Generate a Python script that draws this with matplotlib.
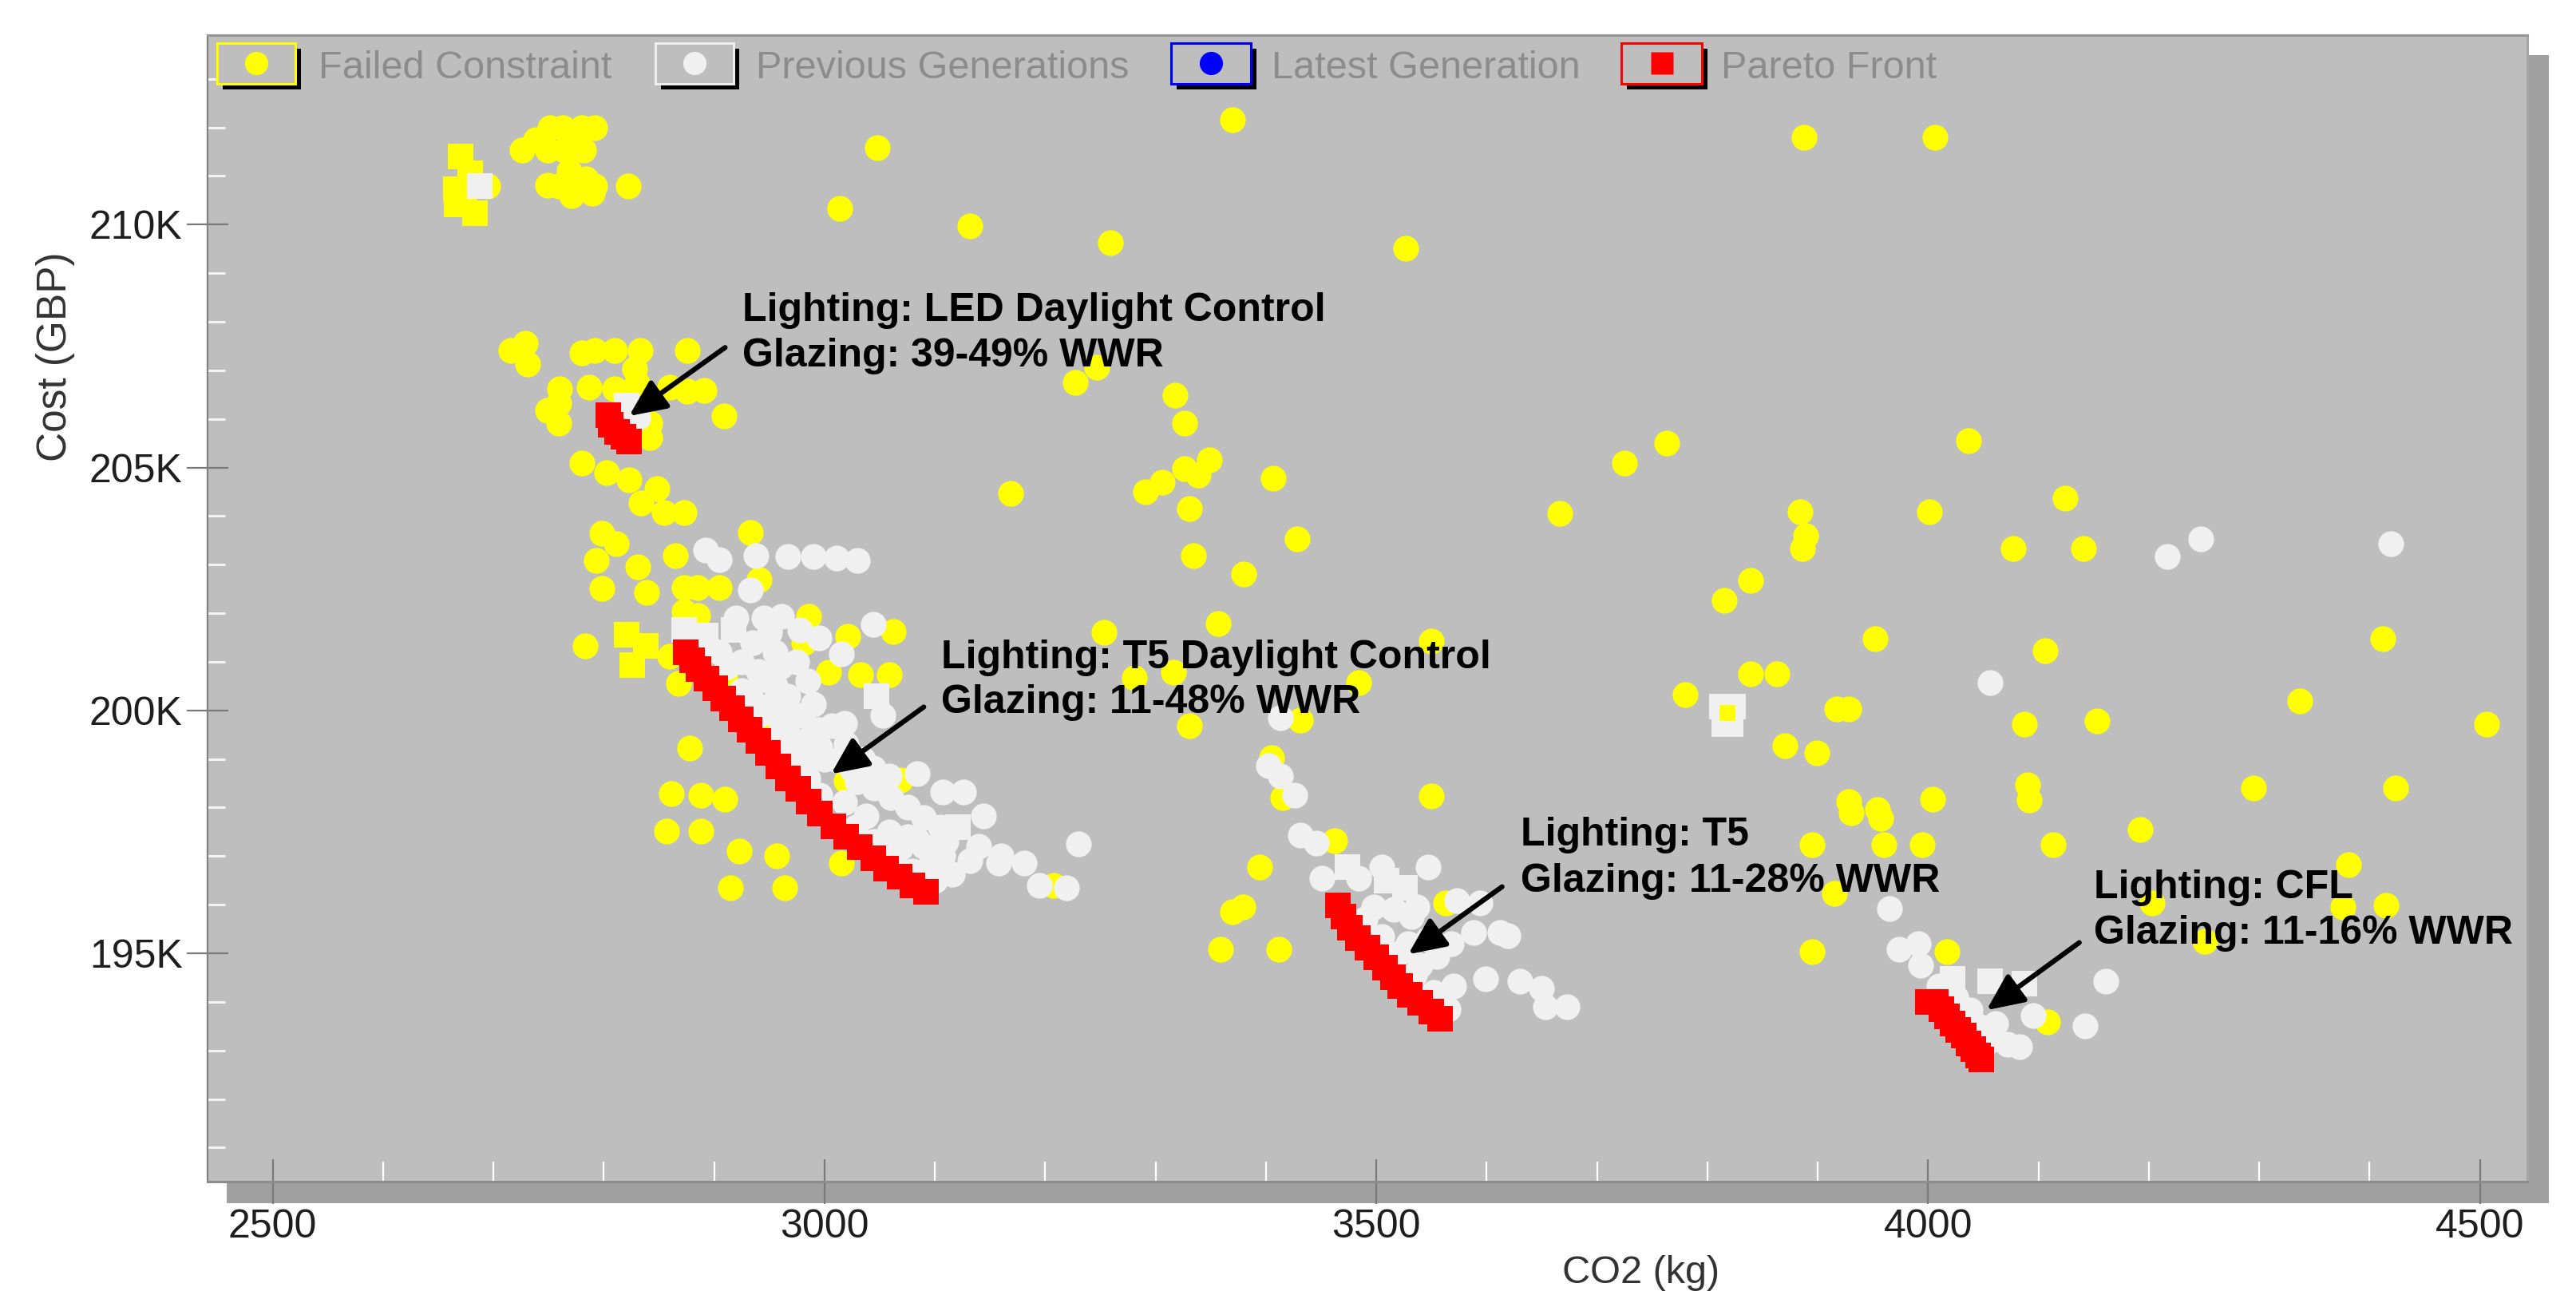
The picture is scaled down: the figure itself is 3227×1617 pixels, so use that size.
import matplotlib
matplotlib.use("Agg")
import matplotlib.pyplot as plt
from matplotlib.patches import Rectangle
from matplotlib.lines import Line2D
from matplotlib.ticker import MultipleLocator, FuncFormatter, FixedLocator

plt.rcParams['font.family'] = ['Liberation Sans', 'DejaVu Sans']

# ---------------- data (CO2 kg, Cost in thousand GBP) ----------------
failed_x = [2695, 2751, 2763, 2780, 2792, 2726, 2749, 2764, 2782, 2738, 2772,
            2749, 2759, 2769, 2771, 2784, 2790, 2792, 2822, 3014,
            3048, 3370, 3132, 3259, 3527, 3888, 4006,
            2716, 2729, 2731, 2780, 2792, 2810, 2833, 2876, 2828, 2830, 2760, 2787,
            2810, 2860, 2876, 2891, 2759, 2749, 2759, 2842, 2842, 2909,
            2780, 2803, 2823, 2848, 2834, 2855, 2873,
            2798, 2811, 2933, 2793, 2831, 2865, 2798, 2839, 2873, 2885, 2905, 2941,
            2873, 2885, 2986, 2783, 2860, 2868, 3062, 3004, 3033, 3059,
            2878, 2861, 2888, 2910, 2857, 2888, 2923, 2957, 2915, 2964, 3015, 3208,
            3069, 3020, 2949, 3104, 2981, 3021, 2910,
            3169, 3291, 3306, 3326, 3339, 3349, 3331, 3407, 3334, 3380, 3428, 3666,
            3725, 3763, 3227, 3247, 3318, 3326,
            3253, 3357, 3281, 3316, 3484, 3550, 3331, 3431, 3405, 3415, 3550, 3462,
            3394, 3379, 3370, 3359, 3412, 3563,
            3884, 4001, 4124, 3889, 3886, 4077, 4141, 3839, 3815, 3952, 4106, 4412,
            3839, 3863, 3780, 3917, 3928, 4087, 4153, 4337, 4506, 3870, 3899, 4090,
            4092, 4004, 4295, 4424, 3928, 3930, 3954, 3957, 4192, 3895, 3960, 3995,
            4113, 4381, 3915, 4203, 4376, 4415, 4037, 3895, 4017, 4251, 4108]
failed_y = [210.79, 211.99, 211.99, 211.99, 211.99, 211.54, 211.54, 211.54, 211.54, 211.75, 211.80,
            210.81, 210.79, 211.10, 210.60, 210.95, 210.64, 210.79, 210.79, 210.34,
            211.58, 212.15, 209.98, 209.62, 209.52, 211.79, 211.79,
            207.41, 207.55, 207.13, 207.36, 207.41, 207.41, 207.41, 207.41, 207.03, 206.73, 206.62, 206.65,
            206.62, 206.65, 206.57, 206.58, 206.32, 206.17, 205.91, 205.91, 205.62, 206.06,
            205.09, 204.89, 204.75, 204.56, 204.27, 204.07, 204.07,
            203.65, 203.43, 203.66, 203.09, 202.96, 203.19, 202.51, 202.43, 202.53, 202.53, 202.53, 202.69,
            202.04, 201.96, 201.93, 201.33, 201.12, 200.56, 201.63, 200.79, 200.73, 200.73,
            199.23, 198.29, 198.26, 198.18, 197.52, 197.52, 197.11, 197.01, 196.35, 196.35, 196.85, 196.40,
            198.57, 198.55, 199.74, 197.06, 201.40, 201.53, 200.72,
            204.47, 204.50, 204.70, 204.98, 204.85, 205.16, 204.15, 204.78, 203.19, 202.81, 203.53, 204.06,
            205.09, 205.50, 206.75, 207.06, 206.49, 205.91,
            201.61, 201.79, 200.67, 200.79, 200.57, 201.43, 199.69, 199.80, 199.03, 198.21, 198.24, 197.31,
            196.78, 195.96, 195.86, 195.09, 195.09, 196.03,
            204.09, 204.09, 204.37, 203.60, 203.33, 203.33, 203.33, 202.68, 202.27, 201.48, 201.23, 201.48,
            200.75, 200.75, 200.33, 200.03, 200.03, 199.72, 199.79, 200.20, 199.72, 199.28, 199.13, 198.47,
            198.16, 198.18, 198.41, 198.41, 198.13, 197.90, 197.96, 197.78, 197.55, 197.24, 197.24, 197.24,
            197.24, 196.83, 196.24, 196.03, 195.96, 195.98, 205.55, 195.04, 195.04, 195.25, 193.58]

failed_sq_x = [2670, 2679, 2666, 2674, 2667, 2683, 2821, 2838, 2826, 2889]
failed_sq_y = [211.40, 211.05, 210.72, 210.57, 210.41, 210.23, 201.56, 201.33, 200.93, 201.50]

prev_x = [2831,
          2892, 2905, 2938, 2967, 2990, 3011, 3030, 2933,
          2961, 2978, 2995, 3015, 3044,
          2933, 2949, 2961, 2972, 2981, 2944, 2967, 2990, 3007, 3012, 3030, 3018, 3053, 2967, 2996,
          3044, 3059, 3084, 3107, 3126, 3144, 3230,
          3084, 3107, 3132, 3158, 3181, 3195, 3219,
          2996, 3018, 3038, 3059, 3069, 3095, 3116,
          2895, 2912, 2925, 2940, 2955, 2970, 2985, 3028, 3045, 3063, 3080, 3100,
          2955, 2975, 2985, 2960, 2950,
          2905, 2925, 2940, 2955, 2950, 2965, 2980, 2995, 2985, 3000, 3020, 3035, 3025,
          3045, 3060, 3075, 3090, 3105, 3075, 3090, 3110, 3140, 3160, 2935, 2920, 2945,
          3402, 3413, 3426, 3431, 3446, 3451, 3484, 3505, 3547, 3498, 3516, 3537, 3573, 3594,
          3612, 3588, 3568, 3555, 3570, 3599, 3630, 3650, 3653, 3673, 3619, 3532, 3547, 3529,
          3540, 3413, 3490, 3505, 3520, 3535, 3552, 3565,
          4247, 4217, 4419, 4056, 3965,
          3974, 3991, 3993, 4010, 4095, 4038, 4061, 4072, 4054, 4083, 4161, 4142, 4025, 4045]
prev_y = [206.03,
          203.30, 203.10, 203.19, 203.17, 203.17, 203.14, 203.09, 202.47,
          201.94, 201.66, 201.50, 201.17, 201.77,
          200.30, 199.97, 199.64, 199.36, 198.98, 200.63, 200.30, 200.13, 199.69, 198.98, 198.54, 199.74, 199.90, 199.52, 199.24,
          198.82, 198.65, 198.70, 198.32, 198.32, 197.83, 197.26,
          197.34, 197.01, 196.90, 196.85, 196.85, 196.40, 196.35,
          198.26, 198.10, 197.83, 197.50, 197.17, 196.78, 196.62,
          201.30, 200.90, 200.40, 199.90, 199.40, 199.00, 198.60, 197.60, 197.30, 197.00, 196.70, 196.50,
          201.20, 201.00, 200.60, 200.90, 201.60,
          201.20, 201.00, 200.80, 200.50, 200.10, 199.80, 199.90, 199.60, 199.40, 199.00, 199.30, 199.00, 198.80,
          198.40, 198.20, 198.00, 197.80, 197.60, 197.40, 197.20, 197.30, 197.20, 197.00, 201.40, 201.90, 201.90,
          198.87, 198.65, 198.26, 197.44, 197.27, 196.54, 196.54, 196.78, 196.78, 195.96, 195.91, 195.96, 196.08, 196.03,
          195.42, 195.42, 195.20, 194.93, 194.32, 194.48, 194.43, 194.27, 193.90, 193.90, 195.37, 195.75, 195.30, 195.20,
          194.76, 199.85, 195.70, 195.35, 195.00, 194.55, 194.20, 193.85,
          203.53, 203.17, 203.43, 200.57, 195.92,
          195.09, 195.20, 194.76, 194.32, 193.72, 193.83, 193.56, 193.12, 193.17, 193.07, 194.43, 193.50, 194.10, 193.50]

prev_sq_x = [2821, 2688, 2873, 2892, 2918, 3047, 3121, 3474, 3509, 3526, 4022, 4056, 4087,
             3813, 3823, 3815, 3821]
prev_sq_y = [206.27, 210.79, 201.66, 201.54, 201.66, 200.30, 197.60, 196.78, 196.49, 196.35, 194.48, 194.43, 194.38,
             200.08, 200.08, 199.72, 199.72]

inner_sq_x = [3818]
inner_sq_y = [199.95]

pareto_x = [2804, 2806, 2812, 2818, 2823,
            2874, 2880, 2886, 2893, 2901, 2908, 2916, 2924, 2932, 2940, 2949, 2958, 2967, 2976,
            2986, 2996, 3008, 3020, 3032, 3044, 3056, 3068, 3080, 3092,
            3465, 3470, 3476, 3483, 3492, 3500, 3508, 3515, 3522, 3530, 3540, 3550, 3558,
            4000, 4007, 4012, 4017, 4022, 4027, 4032, 4037, 4041, 4045, 4048]
pareto_y = [206.08, 205.88, 205.74, 205.64, 205.54,
            201.20, 201.03, 200.85, 200.65, 200.45, 200.25, 200.05, 199.82, 199.60, 199.38, 199.12, 198.85, 198.60, 198.38,
            198.12, 197.88, 197.62, 197.40, 197.18, 196.95, 196.75, 196.57, 196.40, 196.26,
            195.98, 195.75, 195.52, 195.32, 195.12, 194.92, 194.70, 194.50, 194.33, 194.15, 193.98, 193.80, 193.65,
            194.00, 194.00, 193.85, 193.70, 193.55, 193.42, 193.30, 193.15, 193.02, 192.90, 192.82]

x_ticks = [2500, 3000, 3500, 4000, 4500]
y_ticks = [195, 200, 205, 210]
legend_labels = ["Failed Constraint", "Previous Generations", "Latest Generation", "Pareto Front"]
annotations = [
    ("Lighting: LED Daylight Control", "Glazing: 39-49% WWR"),
    ("Lighting: T5 Daylight Control", "Glazing: 11-48% WWR"),
    ("Lighting: T5", "Glazing: 11-28% WWR"),
    ("Lighting: CFL", "Glazing: 11-16% WWR"),
]
arrow_tail = [(2910, 207.47), (3090, 200.07), (3614, 196.37), (4137, 195.22)]
arrow_head = [(2823, 206.06), (3006, 198.69), (3529, 194.98), (4053, 193.83)]

# ---------------- layout ----------------
W, H = 3227, 1617
DPI = 100
fig = plt.figure(figsize=(W / DPI, H / DPI), dpi=DPI, facecolor='white')

def fx(px):
    return px / W

def fy(py):
    return 1 - py / H

# drop shadow of plot panel
fig.add_artist(Rectangle((fx(284), fy(1507)), fx(3193) - fx(284), fy(69) - fy(1507),
                         transform=fig.transFigure, facecolor='#A0A0A0', edgecolor='none', zorder=-1))

ax = fig.add_axes([fx(260), fy(1480), fx(3166) - fx(260), fy(44) - fy(1480)])
ax.set_facecolor('#BEBEBE')
ax.set_xlim(2441, 4543)
ax.set_ylim(190.3, 213.9)

S_C = 540
S_S = 520
ax.scatter(failed_x, failed_y, s=S_C, marker='o', color='#FFFF00', linewidths=0, zorder=2)
ax.scatter(failed_sq_x, failed_sq_y, s=S_S, marker='s', color='#FFFF00', linewidths=0, zorder=2)
ax.scatter(prev_x, prev_y, s=S_C, marker='o', color='#F0F0F0', linewidths=0, zorder=3)
ax.scatter(prev_sq_x, prev_sq_y, s=S_S, marker='s', color='#F0F0F0', linewidths=0, zorder=3)
ax.scatter(inner_sq_x, inner_sq_y, s=200, marker='s', color='#FFFF00', linewidths=0, zorder=3.5)
ax.scatter(pareto_x, pareto_y, s=S_S, marker='s', color='#FF0000', linewidths=0, zorder=4)

for (tx, ty), (hx, hy) in zip(arrow_tail, arrow_head):
    ax.annotate('', xy=(hx, hy), xytext=(tx, ty),
                arrowprops=dict(arrowstyle='-|>,head_length=0.7,head_width=0.32',
                                color='black', lw=4.5, shrinkA=0, shrinkB=0,
                                mutation_scale=40), zorder=10)

# ticks
ax.xaxis.set_major_locator(FixedLocator(x_ticks))
ax.xaxis.set_minor_locator(MultipleLocator(100))
ax.yaxis.set_major_locator(FixedLocator(y_ticks))
ax.yaxis.set_minor_locator(MultipleLocator(1))
ax.yaxis.set_major_formatter(FuncFormatter(lambda v, p: f"{v:.0f}K"))
ax.tick_params(axis='x', which='major', direction='inout', length=41, width=1.6,
               color='#7A7A7A', labelsize=36, labelcolor='#1E1E1E', pad=4)
ax.tick_params(axis='y', which='major', direction='inout', length=37, width=1.6,
               color='#7A7A7A', labelsize=36, labelcolor='#1E1E1E', pad=4)
ax.tick_params(axis='x', which='minor', direction='in', length=18, width=1.6, color='white')
ax.tick_params(axis='y', which='minor', direction='in', length=16, width=2.2, color='#F4F4F4')

ax.spines['top'].set_color('#969696')
ax.spines['top'].set_linewidth(2.2)
ax.spines['left'].set_color('#808080')
ax.spines['left'].set_linewidth(1.6)
ax.spines['bottom'].set_color('#8C8C8C')
ax.spines['bottom'].set_linewidth(2.2)
ax.spines['right'].set_color('#A6A6A6')
ax.spines['right'].set_linewidth(2.2)

# axis labels
fig.text(fx(70), fy(447), 'Cost (GBP)', rotation=90, ha='center', va='center',
         fontsize=37, color='#333333')
fig.text(fx(2056), fy(1607), 'CO2 (kg)', ha='center', va='baseline',
         fontsize=35, color='#333333')

# legend (drawn manually to mimic the boxed swatches)
box_left = [272, 821, 1467, 2031]
box_w = [98, 98, 100, 101]
text_left = [399, 947, 1593, 2156]
box_edge = ['#FFFF00', '#EEEEEE', '#0000FF', '#FF0000']
swatch_color = ['#FFFF00', '#F0F0F0', '#0000FF', '#FF0000']
swatch_marker = ['o', 'o', 'o', 's']
top, bh = 54, 51
for bl, bw, tl, ec, sc, mk, lab in zip(box_left, box_w, text_left, box_edge,
                                        swatch_color, swatch_marker, legend_labels):
    fig.add_artist(Rectangle((fx(bl + 7), fy(top + 7 + bh)), fx(bw), bh / H,
                             transform=fig.transFigure, facecolor='black', edgecolor='none', zorder=5))
    fig.add_artist(Rectangle((fx(bl), fy(top + bh)), fx(bw), bh / H,
                             transform=fig.transFigure, facecolor='#BEBEBE', edgecolor=ec,
                             linewidth=2.2, zorder=6))
    fig.add_artist(Line2D([fx(bl + bw / 2)], [fy(top + bh / 2)], transform=fig.transFigure,
                          marker=mk, ms=21 if mk == 'o' else 20, mfc=sc, mec='none', ls='none', zorder=7))
    fig.text(fx(tl), fy(98), lab, ha='left', va='baseline', fontsize=35, color='#8C8C8C', zorder=7)

# annotation texts
ann_left = [930, 1179, 1905, 2623]
ann_base1 = [402, 837, 1059, 1125]
ann_base2 = [459, 893, 1117, 1182]
for (l1, l2), xl, b1, b2 in zip(annotations, ann_left, ann_base1, ann_base2):
    fig.text(fx(xl), fy(b1), l1, ha='left', va='baseline', fontsize=36,
             fontweight='bold', color='black', zorder=8)
    fig.text(fx(xl), fy(b2), l2, ha='left', va='baseline', fontsize=36,
             fontweight='bold', color='black', zorder=8)

fig.savefig('out.png', dpi=DPI, facecolor='white')
